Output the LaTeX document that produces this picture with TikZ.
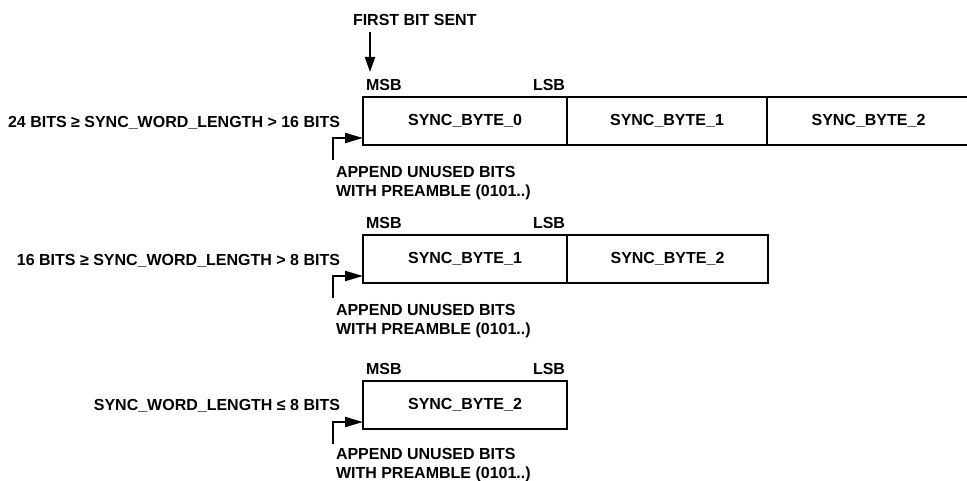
\documentclass[tikz,border=0pt]{standalone}
\usepackage{fontspec}
\setmainfont{Liberation Sans}
\usetikzlibrary{arrows.meta}
\begin{document}
\begin{tikzpicture}[x=1pt,y=-1pt,
  every node/.style={font=\fontsize{16}{19}\selectfont\bfseries, inner sep=0pt, outer sep=0pt},
  cell/.style={draw, line width=2pt, minimum height=48pt, anchor=north west},
  elbow/.style={line width=2pt, -{Triangle[length=18pt,width=10pt]}},
  down/.style={line width=2pt, -{Triangle[length=15pt,width=10pt]}}]
\useasboundingbox (0,0) rectangle (967,481);

% row 1
\node[cell, minimum width=204pt] (a0) at (363,97) {SYNC\_BYTE\_0};
\node[cell, minimum width=200pt] (a1) at (a0.north east) {SYNC\_BYTE\_1};
\node[cell, minimum width=203pt] (a2) at (a1.north east) {SYNC\_BYTE\_2};
\node[anchor=east] (l0) at ([xshift=-23pt,yshift=-2pt]a0.west) {24 BITS ≥ SYNC\_WORD\_LENGTH > 16 BITS};
\node[anchor=west] (m0) at ([xshift=3pt,yshift=12pt]a0.north west) {MSB};
\node[anchor=east] (s0) at ([xshift=-2pt,yshift=12pt]a0.north east) {LSB};
\node[anchor=north west, align=left] (p0) at (336,166.5) {APPEND UNUSED BITS\\WITH PREAMBLE (0101..)};
\coordinate (e0) at (333,160);
\draw[elbow] (e0) |- ([yshift=7pt]a0.south west);

\node[anchor=west] (fbs) at (353,20) {FIRST BIT SENT};
\coordinate (fbtip) at (370,72);
\draw[down] ([yshift=-6pt]fbs.south -| fbtip) -- (fbtip);

% row 2
\node[cell, minimum width=204pt] (b1) at (363,235) {SYNC\_BYTE\_1};
\node[cell, minimum width=201pt] (b2) at (b1.north east) {SYNC\_BYTE\_2};
\node[anchor=east] (l1) at ([xshift=-23pt,yshift=-2pt]b1.west) {16 BITS ≥ SYNC\_WORD\_LENGTH > 8 BITS};
\node[anchor=west] (m1) at ([xshift=3pt,yshift=12pt]b1.north west) {MSB};
\node[anchor=east] (s1) at ([xshift=-2pt,yshift=12pt]b1.north east) {LSB};
\node[anchor=north west, align=left] (p1) at (336,304.5) {APPEND UNUSED BITS\\WITH PREAMBLE (0101..)};
\coordinate (e1) at (333,298);
\draw[elbow] (e1) |- ([yshift=7pt]b1.south west);

% row 3
\node[cell, minimum width=204pt] (c2) at (363,381) {SYNC\_BYTE\_2};
\node[anchor=east] (l2) at ([xshift=-23pt,yshift=-1pt]c2.west) {SYNC\_WORD\_LENGTH ≤ 8 BITS};
\node[anchor=west] (m2) at ([xshift=3pt,yshift=12pt]c2.north west) {MSB};
\node[anchor=east] (s2) at ([xshift=-2pt,yshift=12pt]c2.north east) {LSB};
\node[anchor=north west, align=left] (p2) at (336,448) {APPEND UNUSED BITS\\WITH PREAMBLE (0101..)};
\coordinate (e2) at (333,444);
\draw[elbow] (e2) |- ([yshift=7pt]c2.south west);
\end{tikzpicture}
\end{document}
